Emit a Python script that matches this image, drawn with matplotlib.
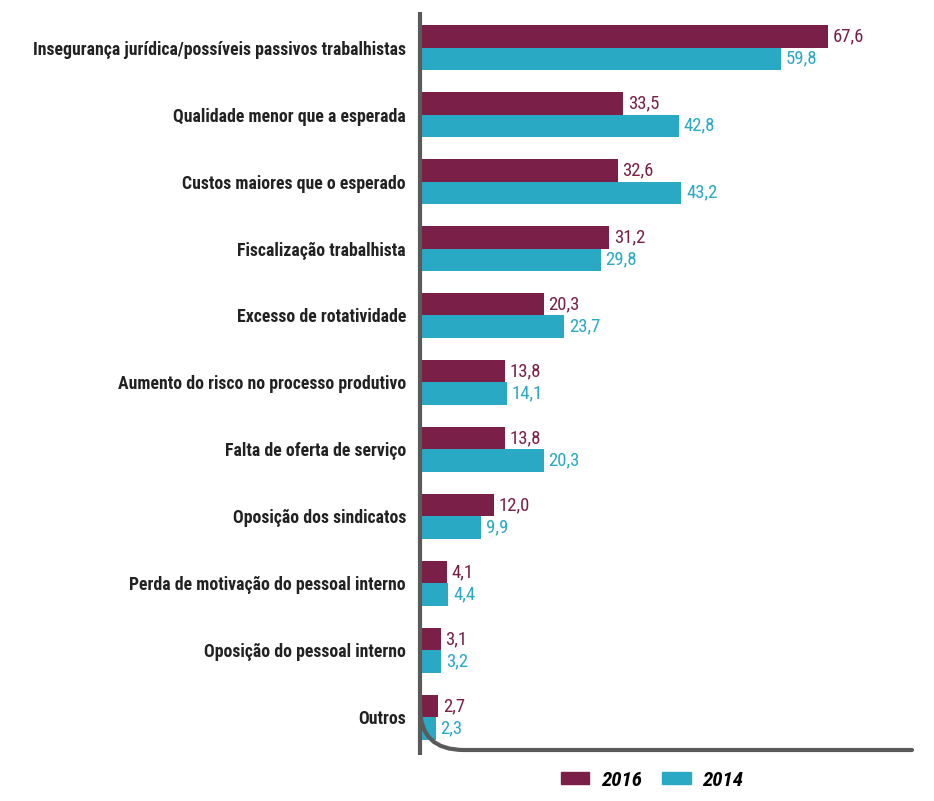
import matplotlib.pyplot as plt
from matplotlib.patches import Patch, PathPatch
from matplotlib.path import Path
from matplotlib import font_manager
import numpy as np

names = {f.name for f in font_manager.fontManager.ttflist}
base = next((n for n in ["Roboto Condensed", "Liberation Sans Narrow", "Roboto", "Lato"]
             if n in names), "DejaVu Sans")
FONT = [base, "DejaVu Sans"]
plt.rcParams['font.family'] = FONT

categories = [
    "Insegurança jurídica/possíveis passivos trabalhistas",
    "Qualidade menor que a esperada",
    "Custos maiores que o esperado",
    "Fiscalização trabalhista",
    "Excesso de rotatividade",
    "Aumento do risco no processo produtivo",
    "Falta de oferta de serviço",
    "Oposição dos sindicatos",
    "Perda de motivação do pessoal interno",
    "Oposição do pessoal interno",
    "Outros",
]
vals_2016 = [67.6, 33.5, 32.6, 31.2, 20.3, 13.8, 13.8, 12.0, 4.1, 3.1, 2.7]
vals_2014 = [59.8, 42.8, 43.2, 29.8, 23.7, 14.1, 20.3, 9.9, 4.4, 3.2, 2.3]
years = ["2016", "2014"]

C16 = "#7a1f47"
C14 = "#29a9c4"
AXC = "#5a5a5a"

W, H = 934, 801
fig = plt.figure(figsize=(W / 100, H / 100), dpi=100)

# fit the longest label to about 375 px like the reference
probe = fig.text(0, 0, categories[0], fontsize=12, fontweight="bold")
wpx = probe.get_window_extent(fig.canvas.get_renderer()).width
probe.remove()
lab_size = min(13.0, 12 * 374 / wpx)

# main axes: x from 420px to 912px, y from 12px to 755px
ax = fig.add_axes([420 / W, 1 - 755 / H, (912 - 420) / W, (755 - 12) / H])
y = np.arange(len(categories))
bh = 0.33
ax.barh(y - bh / 2, vals_2016, height=bh, color=C16, zorder=2)
ax.barh(y + bh / 2, vals_2014, height=bh, color=C14, zorder=2)

for yi, v in zip(y, vals_2016):
    ax.text(v + 0.8, yi - bh / 2, f"{v:.1f}".replace(".", ","), va="center", ha="left",
            color=C16, fontsize=13.5)
for yi, v in zip(y, vals_2014):
    ax.text(v + 0.8, yi + bh / 2, f"{v:.1f}".replace(".", ","), va="center", ha="left",
            color=C14, fontsize=13.5)

ax.set_xlim(-0.33, 81.67)
ax.set_ylim(10.56, -0.53)
ax.set_yticks(y)
ax.set_yticklabels(categories, fontsize=lab_size, fontweight="bold", color="#222222")
ax.tick_params(axis="y", length=0, pad=10)
ax.set_xticks([])
for s in ax.spines.values():
    s.set_visible(False)
ax.patch.set_alpha(0)

# decorative axis lines with rounded corner
ov = fig.add_axes([0, 0, 1, 1], zorder=5)
ov.set_xlim(0, W)
ov.set_ylim(H, 0)
ov.axis("off")
ov.plot([420, 420], [12, 755], color=AXC, lw=3, solid_capstyle="butt")
path = Path([(420, 708), (420, 750), (464, 750), (912, 750)],
            [Path.MOVETO, Path.CURVE3, Path.CURVE3, Path.LINETO])
ov.add_patch(PathPatch(path, fill=False, edgecolor=AXC, lw=3, capstyle="round"))

handles = [Patch(color=C16, label=years[0]), Patch(color=C14, label=years[1])]
fig.legend(handles=handles, loc="center", bbox_to_anchor=(652 / W, 1 - 780 / H),
           ncol=2, frameon=False, handlelength=1.35, handleheight=0.55,
           handletextpad=0.55, columnspacing=1.0,
           prop={"family": FONT, "weight": "bold", "style": "italic", "size": 15})

fig.savefig("out.png", dpi=100, facecolor="white")
